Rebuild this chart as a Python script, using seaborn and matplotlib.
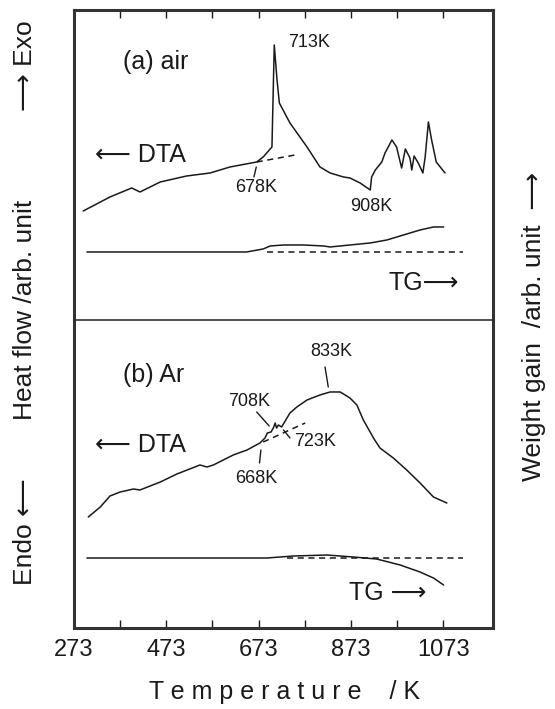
import pandas as pd
import matplotlib.pyplot as plt
import seaborn as sns

# (a) air -- DTA trace, temperature in K, heat flow in arb. unit
air_dta_t = [293, 351, 398, 416, 460, 517, 568, 611, 669, 683, 702, 707, 713, 718, 741,
             778, 806, 828, 857, 871, 893, 915, 918, 926, 940, 947, 962, 972, 983, 991,
             1001, 1005, 1010, 1019, 1029, 1034, 1041, 1048, 1058, 1077]
air_dta_y = [109, 123, 132, 128, 138, 144, 147, 153, 158, 163, 173, 275, 240, 217, 197,
             173, 153, 147, 143, 142, 137, 130, 143, 150, 158, 167, 180, 173, 152, 171,
             162, 150, 164, 157, 147, 163, 198, 180, 158, 147]
air_base_t = [669, 752]
air_base_y = [158, 165]

# (a) air -- TG trace, weight gain in arb. unit
air_tg_t = [301, 647, 683, 698, 727, 770, 814, 828, 871, 915, 951, 987, 1023, 1052, 1074]
air_tg_y = [68, 68, 71, 74, 75, 75, 74, 73, 75, 77, 80, 85, 90, 93, 93]
air_tg_base_t = [691, 1117]
air_tg_base_y = [68, 68]

# (b) Ar -- DTA trace
ar_dta_t = [304, 330, 351, 373, 402, 416, 460, 496, 546, 561, 575, 618, 648, 676, 687,
            692, 700, 705, 709, 712, 716, 723, 741, 756, 778, 806, 828, 850, 871, 886,
            900, 922, 936, 965, 994, 1023, 1052, 1081]
ar_dta_y = [111, 121, 132, 136, 139, 138, 146, 154, 163, 161, 163, 173, 178, 185, 190,
            195, 196, 200, 205, 200, 203, 201, 215, 221, 228, 233, 236, 236, 230, 223,
            208, 190, 180, 170, 158, 145, 131, 125]
ar_base_t = [683, 774]
ar_base_y = [186, 205]

# (b) Ar -- TG trace
ar_tg_t = [301, 691, 748, 821, 879, 929, 980, 1023, 1052, 1074]
ar_tg_y = [70, 70, 72, 73, 71, 69, 63, 56, 50, 43]
ar_tg_base_t = [734, 1117]
ar_tg_base_y = [70, 70]

tick_values = [273, 373, 473, 573, 673, 773, 873, 973, 1073]
tick_labels = ["273", "", "473", "", "673", "", "873", "", "1073"]

sns.set_theme(style="white")
plt.rcParams["font.family"] = ["Liberation Sans", "DejaVu Sans"]
ink = "#1a1a1a"

fig = plt.figure(figsize=(5.55, 7.09), dpi=100)
ax_a = fig.add_axes([0.1333, 0.5487, 0.7550, 0.4372])
ax_b = fig.add_axes([0.1333, 0.1142, 0.7550, 0.4345])

dash = (0, (4, 3))


def draw(ax, t, y, dashed=False):
    df = pd.DataFrame({"T": t, "y": y})
    sns.lineplot(data=df, x="T", y="y", ax=ax, color=ink, lw=1.1, sort=False,
                 estimator=None, linestyle=dash if dashed else "-")


draw(ax_a, air_dta_t, air_dta_y)
draw(ax_a, air_base_t, air_base_y, dashed=True)
draw(ax_a, air_tg_t, air_tg_y)
draw(ax_a, air_tg_base_t, air_tg_base_y, dashed=True)
ax_a.plot([668, 663], [153, 143], color=ink, lw=1)

draw(ax_b, ar_dta_t, ar_dta_y)
draw(ax_b, ar_base_t, ar_base_y, dashed=True)
draw(ax_b, ar_tg_t, ar_tg_y)
draw(ax_b, ar_tg_base_t, ar_tg_base_y, dashed=True)
ax_b.plot([817, 824], [261, 241], color=ink, lw=1)
ax_b.plot([669, 696], [216, 202], color=ink, lw=1)
ax_b.plot([727, 741], [198, 190], color=ink, lw=1)
ax_b.plot([678, 675], [178, 165], color=ink, lw=1)

for ax, ymax in [(ax_a, 310), (ax_b, 308)]:
    ax.set_xlim(273, 1181)
    ax.set_ylim(0, ymax)
    ax.set_xlabel("")
    ax.set_ylabel("")
    ax.set_yticks([])
    for s in ax.spines.values():
        s.set_visible(True)
        s.set_color("#333333")
        s.set_linewidth(2.2)
    ax.set_facecolor("none")

ax_a.spines["bottom"].set_visible(False)
ax_b.spines["top"].set_linewidth(1.2)

ax_a.set_xticks(tick_values)
ax_a.tick_params(axis="x", top=True, bottom=False, labeltop=False, labelbottom=False,
                 direction="in", length=6, width=1, color=ink)
ax_b.set_xticks(tick_values)
ax_b.set_xticklabels(tick_labels)
ax_b.tick_params(axis="x", bottom=True, top=False, direction="in", length=6, width=1,
                 color=ink, labelsize=17, pad=8, labelcolor=ink)

fs_note = 13
ax_a.text(379, 258, "(a) air", fontsize=18, color=ink, va="center")
ax_a.text(319, 165, "\u27f5 DTA", fontsize=18, color=ink, va="center")
ax_a.text(736, 277, "713K", fontsize=fs_note, color=ink, va="center")
ax_a.text(667, 132, "678K", fontsize=fs_note, color=ink, va="center", ha="center")
ax_a.text(918, 113, "908K", fontsize=fs_note, color=ink, va="center", ha="center")
ax_a.text(955, 37, "TG\u27f6", fontsize=18, color=ink, va="center")

ax_b.text(379, 253, "(b) Ar", fontsize=18, color=ink, va="center")
ax_b.text(319, 183, "\u27f5 DTA", fontsize=18, color=ink, va="center")
ax_b.text(830, 276, "833K", fontsize=fs_note, color=ink, va="center", ha="center")
ax_b.text(652, 226, "708K", fontsize=fs_note, color=ink, va="center", ha="center")
ax_b.text(795, 186, "723K", fontsize=fs_note, color=ink, va="center", ha="center")
ax_b.text(669, 150, "668K", fontsize=fs_note, color=ink, va="center", ha="center")
ax_b.text(868, 35, "TG \u27f6", fontsize=18, color=ink, va="center")

fs_lab = 19
fig.text(0.045, 0.908, "\u27f6 Exo", rotation=90, fontsize=fs_lab, color=ink,
         ha="center", va="center")
fig.text(0.045, 0.563, "Heat flow /arb. unit", rotation=90, fontsize=fs_lab, color=ink,
         ha="center", va="center")
fig.text(0.045, 0.250, "Endo \u27f5", rotation=90, fontsize=fs_lab, color=ink,
         ha="center", va="center")
fig.text(0.962, 0.540, "Weight gain  /arb. unit  \u27f6", rotation=90, fontsize=fs_lab,
         color=ink, ha="center", va="center")
fig.text(0.512, 0.024, "T e m p e r a t u r e    / K", fontsize=18, color=ink,
         ha="center", va="center")

fig.savefig("out.png", dpi=100)
